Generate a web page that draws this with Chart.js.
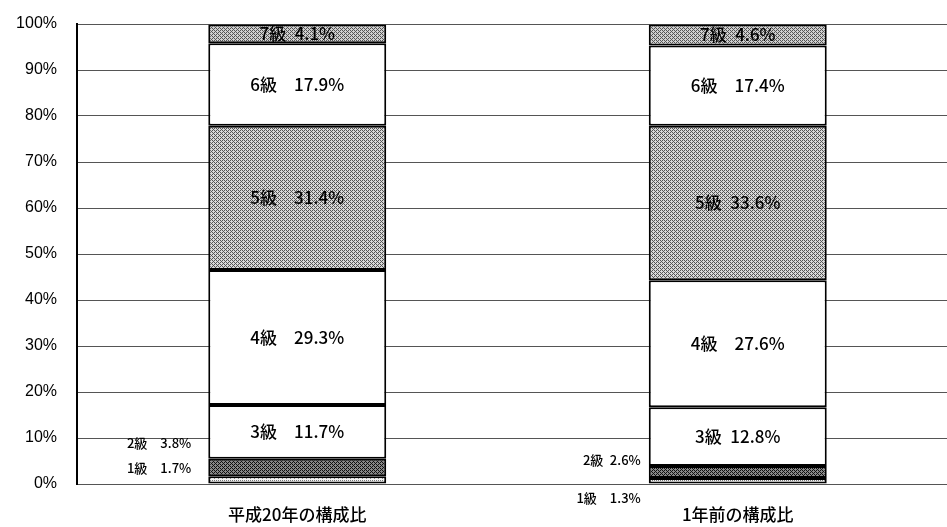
<!DOCTYPE html>
<html>
<head>
<meta charset="utf-8">
<script src="https://cdn.jsdelivr.net/npm/chart.js@4/dist/chart.umd.min.js"></script>
<style>
  html, body { margin: 0; padding: 0; background: #fff; overflow: hidden; }
  #wrap { width: 958px; height: 527px; }
</style>
</head>
<body>
<div id="wrap"><canvas id="bar-chart"></canvas></div>
<script>
// data
const categories = ["平成20年の構成比", "1年前の構成比"];
const grades = ["1級", "2級", "3級", "4級", "5級", "6級", "7級"];
const shareH20 = [1.7, 3.8, 11.7, 29.3, 31.4, 17.9, 4.1];
const shareLastYear = [1.3, 2.6, 12.8, 27.6, 33.6, 17.4, 4.6];
const yTicks = [0, 10, 20, 30, 40, 50, 60, 70, 80, 90, 100];

// little dither patterns like the printed original
function makePattern(dark, light, density) {
  const c = document.createElement("canvas");
  c.width = 4; c.height = 4;
  const g = c.getContext("2d");
  g.fillStyle = light;
  g.fillRect(0, 0, 4, 4);
  g.fillStyle = dark;
  const spots = [[0,0],[2,2],[2,0],[0,2],[1,1],[3,3],[3,1],[1,3]];
  for (let i = 0; i < density; i++) g.fillRect(spots[i][0], spots[i][1], 1, 1);
  return g.createPattern(c, "repeat");
}

const fills = [
  makePattern("#777", "#f4f4f4", 3),  // 1級 light
  makePattern("#111", "#888", 6),     // 2級 dark
  "#ffffff",                          // 3級
  "#ffffff",                          // 4級
  makePattern("#555", "#d8d8d8", 6),  // 5級
  "#ffffff",                          // 6級
  makePattern("#555", "#cfcfcf", 6)   // 7級
];

// spacing between grade and percent, per bar (wide = 2 en spaces)
const gaps = [
  [2, 2, 2, 2, 2, 2, 1],
  [2, 1, 1, 2, 1, 2, 1]
];

// where the two small grades get their labels (pixel offsets from the segment)
const smallLabelOffsets = [
  { 0: { dx: -17, dy: -12 }, 1: { dx: -17, dy: -24 } },
  { 0: { dx: -8, dy: 17 }, 1: { dx: -8, dy: -12 } }
];

const labelPlugin = {
  id: "segmentLabels",
  afterDatasetsDraw(chart) {
    const ctx = chart.ctx;
    ctx.save();
    ctx.fillStyle = "#000";
    ctx.textBaseline = "middle";
    chart.data.datasets.forEach((ds, di) => {
      const meta = chart.getDatasetMeta(di);
      meta.data.forEach((bar, bi) => {
        const v = ds.data[bi];
        const cy = (bar.y + bar.base) / 2;
        const txt = grades[di] + "\u2002".repeat(gaps[bi][di]) + v.toFixed(1) + "%";
        if (di >= 2) {
          ctx.font = "500 17px 'Noto Sans CJK JP', sans-serif";
          ctx.textAlign = "center";
          ctx.fillText(txt, bar.x, cy);
        } else {
          const off = smallLabelOffsets[bi][di];
          ctx.font = "500 13px 'Noto Sans CJK JP', sans-serif";
          ctx.textAlign = "right";
          ctx.fillText(txt, bar.x - bar.width / 2 + off.dx, cy + off.dy);
        }
      });
    });
    ctx.restore();
  }
};

const datasets = grades.map((g, i) => ({
  label: g,
  data: [shareH20[i], shareLastYear[i]],
  backgroundColor: fills[i],
  borderColor: "#000",
  borderWidth: 2,
  borderSkipped: false,
  barPercentage: 0.404,
  categoryPercentage: 1.0
}));

new Chart(document.getElementById("bar-chart"), {
  type: "bar",
  data: { labels: categories, datasets: datasets },
  plugins: [labelPlugin],
  options: {
    responsive: true,
    maintainAspectRatio: false,
    animation: false,
    layout: { padding: { top: 24, right: 0, bottom: 0, left: 0 } },
    plugins: { legend: { display: false }, tooltip: { enabled: false } },
    scales: {
      x: {
        stacked: true,
        afterFit(scale) { scale.height = 43; },
        grid: { display: false },
        border: { display: false },
        ticks: {
          color: "#000",
          padding: 12,
          font: { family: "'Noto Sans CJK JP', sans-serif", size: 17, weight: "500" }
        }
      },
      y: {
        stacked: true,
        min: 0,
        max: 100,
        afterFit(scale) { scale.width = 77; },
        afterBuildTicks(scale) { scale.ticks = yTicks.map(v => ({ value: v })); },
        grid: { color: "#555", lineWidth: 1, drawTicks: false },
        border: { display: true, color: "#000", width: 2 },
        ticks: {
          color: "#000",
          padding: 20,
          // small line height so the top label does not push the plot down
          font: { family: "'Liberation Sans', sans-serif", size: 16, lineHeight: 0.2 },
          callback: v => v + "%"
        }
      }
    }
  }
});
</script>
</body>
</html>
